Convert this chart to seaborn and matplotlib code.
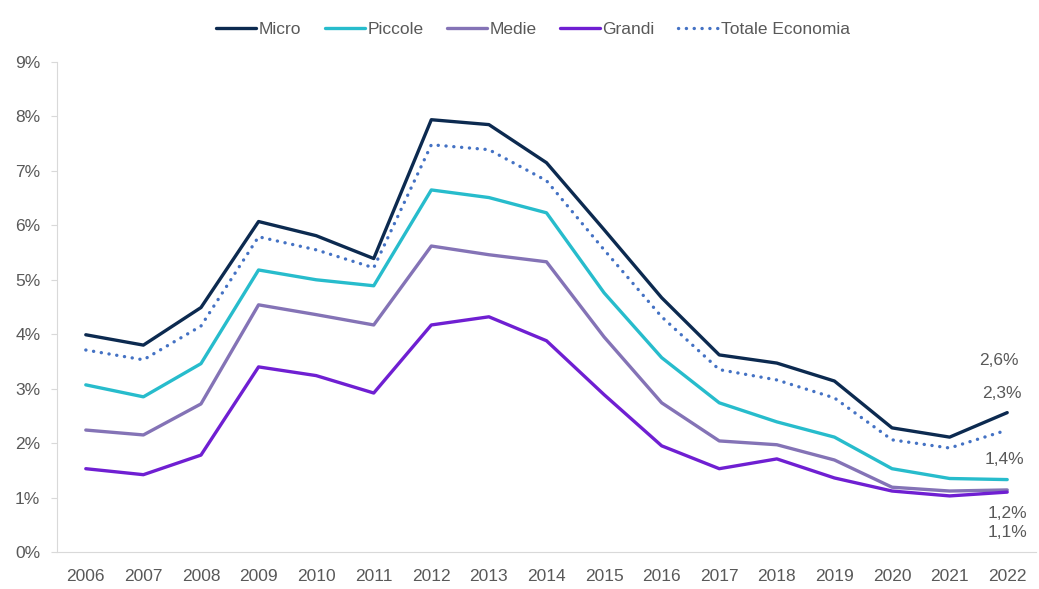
import matplotlib
matplotlib.use("Agg")
import matplotlib.pyplot as plt
import seaborn as sns
import pandas as pd
from matplotlib.lines import Line2D
from matplotlib.ticker import FixedLocator, PercentFormatter

years = ["2006", "2007", "2008", "2009", "2010", "2011", "2012", "2013", "2014",
         "2015", "2016", "2017", "2018", "2019", "2020", "2021", "2022"]
micro = [3.99, 3.80, 4.49, 6.07, 5.81, 5.39, 7.94, 7.85, 7.15, 5.92, 4.67, 3.62, 3.47, 3.14, 2.28, 2.11, 2.56]
piccole = [3.07, 2.85, 3.46, 5.18, 5.00, 4.89, 6.65, 6.51, 6.23, 4.76, 3.57, 2.74, 2.39, 2.11, 1.53, 1.35, 1.33]
medie = [2.24, 2.15, 2.72, 4.54, 4.36, 4.17, 5.62, 5.46, 5.33, 3.95, 2.74, 2.04, 1.97, 1.69, 1.19, 1.12, 1.14]
grandi = [1.53, 1.42, 1.78, 3.40, 3.24, 2.92, 4.17, 4.32, 3.88, 2.89, 1.95, 1.53, 1.71, 1.36, 1.12, 1.03, 1.10]
totale = [3.71, 3.53, 4.15, 5.79, 5.55, 5.22, 7.48, 7.39, 6.82, 5.55, 4.32, 3.35, 3.16, 2.83, 2.06, 1.91, 2.24]

series_names = ["Micro", "Piccole", "Medie", "Grandi", "Totale Economia"]
colors = ["#0c2a50", "#27bccc", "#8473b6", "#6f1fd2", "#4472c4"]
end_labels = ["2,6%", "2,3%", "1,4%", "1,2%", "1,1%"]
end_label_x = [-0.15, -0.10, -0.05, 0.0, 0.0]
end_label_y = [3.52, 2.92, 1.69, 0.70, 0.35]

y_ticks = [0, 1, 2, 3, 4, 5, 6, 7, 8, 9]

rows = []
for name, vals in zip(series_names, [micro, piccole, medie, grandi, totale]):
    for i, (yr, v) in enumerate(zip(years, vals)):
        rows.append({"idx": i, "year": yr, "value": v, "series": name})
df = pd.DataFrame(rows)

sns.set_style("white")
plt.rcParams["font.family"] = ["Liberation Sans", "DejaVu Sans"]

fig = plt.figure(figsize=(10.39, 5.89), dpi=100)
ax = fig.add_axes([57 / 1039, 1 - 552 / 589, (1036 - 57) / 1039, (552 - 62) / 589])

LW = 2.4
DOT = (0, (0.05, 2.3))
palette = dict(zip(series_names, colors))
for name in series_names:
    sub = df[df["series"] == name]
    is_tot = name == "Totale Economia"
    sns.lineplot(data=sub, x="idx", y="value", color=palette[name], ax=ax,
                 linewidth=LW, linestyle=DOT if is_tot else "-",
                 dash_capstyle="round" if is_tot else "butt",
                 legend=False, zorder=2 if is_tot else 3)

ax.set_xlim(-0.5, len(years) - 0.5)
ax.set_ylim(0, 9)
ax.set_xticks(range(len(years)))
ax.set_xticklabels(years)
ax.xaxis.set_minor_locator(FixedLocator([i - 0.5 for i in range(len(years) + 1)]))
ax.tick_params(axis="x", which="major", length=0, pad=12, labelsize=12.5, labelcolor="#595959")
ax.tick_params(axis="x", which="minor", length=7, width=0.8, color="#d9d9d9", direction="out")
ax.set_yticks(y_ticks)
ax.yaxis.set_major_formatter(PercentFormatter(decimals=0))
ax.tick_params(axis="y", length=4, width=0.8, color="#d9d9d9", labelsize=12.5,
               labelcolor="#595959", pad=8, left=True)
ax.set_xlabel("")
ax.set_ylabel("")
for s in ["top", "right"]:
    ax.spines[s].set_visible(False)
for s in ["left", "bottom"]:
    ax.spines[s].set_color("#d9d9d9")
    ax.spines[s].set_linewidth(0.8)

last = len(years) - 1
for lab, dx, yv in zip(end_labels, end_label_x, end_label_y):
    ax.text(last + dx, yv, lab, ha="center", va="center", fontsize=12.5, color="#595959")

handles = []
for n, c in zip(series_names, colors):
    if n == "Totale Economia":
        handles.append(Line2D([0], [0], color=c, lw=LW, linestyle=DOT, dash_capstyle="round"))
    else:
        handles.append(Line2D([0], [0], color=c, lw=LW))
leg = fig.legend(handles, series_names, loc="center", bbox_to_anchor=(0.513, 1 - 29 / 589),
                 ncol=5, frameon=False, fontsize=12.5, handlelength=2.3, handletextpad=0.15,
                 columnspacing=1.35)
for t in leg.get_texts():
    t.set_color("#595959")

fig.savefig("out.png", dpi=100)
